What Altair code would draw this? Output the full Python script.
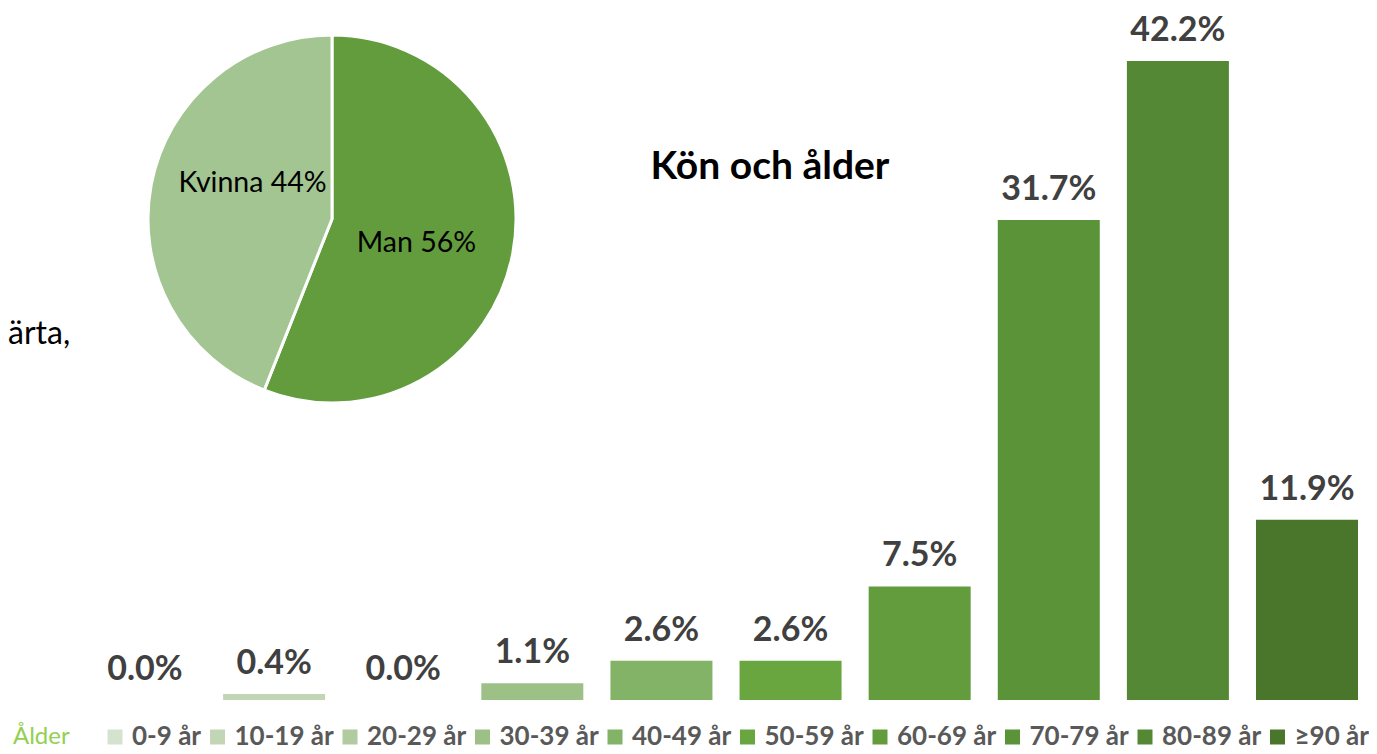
import altair as alt
import pandas as pd

# ---- data ----
age_groups = ["0-9 år", "10-19 år", "20-29 år", "30-39 år", "40-49 år",
              "50-59 år", "60-69 år", "70-79 år", "80-89 år", "≥90 år"]
age_pct = [0.0, 0.4, 0.0, 1.1, 2.6, 2.6, 7.5, 31.7, 42.2, 11.9]
age_colors = ["#D4E3CD", "#C2D6B6", "#AFCB9F", "#9DC087", "#82B366",
              "#6AA640", "#629C3D", "#5B9338", "#548834", "#4A762C"]

sex_labels = ["Man", "Kvinna"]
sex_pct = [56, 44]
sex_colors = ["#629C3D", "#A2C592"]

title_text = "Kön och ålder"
side_text = "ärta,"
legend_title = "Ålder"

FONT = "Lato"

bars_df = pd.DataFrame({"age": age_groups, "pct": age_pct})
pie_df = pd.DataFrame({"sex": sex_labels, "pct": sex_pct, "ord": [0, 1]})

W, H = 1361, 746
CX, CY, R = 324, 211, 184

xscale = alt.Scale(domain=age_groups, range=[86, 1350], paddingInner=0.21, paddingOuter=0)
yscale = alt.Scale(domain=[0, 45.7], range=[692, 0])

bars = alt.Chart(bars_df).mark_bar().encode(
    x=alt.X("age:N", scale=xscale, axis=None, sort=age_groups),
    y=alt.Y("pct:Q", scale=yscale, axis=None),
    color=alt.Color(
        "age:N", sort=age_groups,
        scale=alt.Scale(domain=age_groups, range=age_colors),
        legend=alt.Legend(
            orient="none", legendX=5, legendY=716, direction="horizontal",
            title=legend_title, titleOrient="left", titleFont=FONT,
            titleFontSize=24, titleFontWeight="normal", titleColor="#92D050",
            titlePadding=32, titleBaseline="middle",
            symbolType="square", symbolSize=225, symbolStrokeWidth=0,
            symbolOpacity=1, labelFont=FONT, labelFontSize=26,
            labelFontWeight="bold", labelColor="#595959", labelOffset=4,
            columnPadding=2.5,
        ),
    ),
)

bar_labels = alt.Chart(bars_df).transform_calculate(
    label="format(datum.pct, '.1f') + '%'"
).mark_text(
    baseline="alphabetic", dy=-20, fontSize=34, fontWeight="bold",
    color="#404040", font=FONT,
).encode(
    x=alt.X("age:N", scale=xscale, axis=None, sort=age_groups),
    y=alt.Y("pct:Q", scale=yscale, axis=None),
    text="label:N",
)

pie = alt.Chart(pie_df).mark_arc(radius=R, stroke="white", strokeWidth=3).encode(
    theta=alt.Theta("pct:Q", stack=True, scale=alt.Scale(domain=[0, 100], range=[0, 6.283185])),
    color=alt.Color("sex:N", scale=alt.Scale(domain=sex_labels, range=sex_colors), legend=None),
    order=alt.Order("ord:Q"),
    x=alt.value(CX), y=alt.value(CY),
)

pie_base = alt.Chart(pie_df).transform_window(
    cum="sum(pct)", sort=[alt.SortField("ord")]
).transform_calculate(
    mid="datum.cum - datum.pct / 2",
    label="datum.sex + ' ' + datum.pct + '%'",
)

def pie_label(name, dx, dy):
    return pie_base.transform_filter(alt.datum.sex == name).mark_text(
        radius=88, fontSize=28.5, font=FONT, color="#000000",
        align="center", baseline="middle", dx=dx, dy=dy,
    ).encode(
        theta=alt.Theta("mid:Q", scale=alt.Scale(domain=[0, 100], range=[0, 6.283185])),
        text="label:N",
        x=alt.value(CX), y=alt.value(CY),
    )

man_label = pie_label("Man", -2, 8)
kvinna_label = pie_label("Kvinna", 7, -20)

title = alt.Chart(pd.DataFrame({"t": [title_text]})).mark_text(
    fontSize=39, fontWeight="bold", font=FONT, color="#000000",
    align="center", baseline="alphabetic",
).encode(text="t:N", x=alt.value(762), y=alt.value(171))

side = alt.Chart(pd.DataFrame({"t": [side_text]})).mark_text(
    fontSize=32, font=FONT, color="#000000", align="left", baseline="middle",
).encode(text="t:N", x=alt.value(0), y=alt.value(326))

chart = alt.layer(
    pie, man_label, kvinna_label, bars, bar_labels, title, side
).resolve_scale(color="independent").properties(
    width=W, height=H, padding=0,
    autosize=alt.AutoSizeParams(type="none"),
).configure_view(stroke=None)

chart.save("out.html", embed_options={"renderer": "svg", "actions": False})
